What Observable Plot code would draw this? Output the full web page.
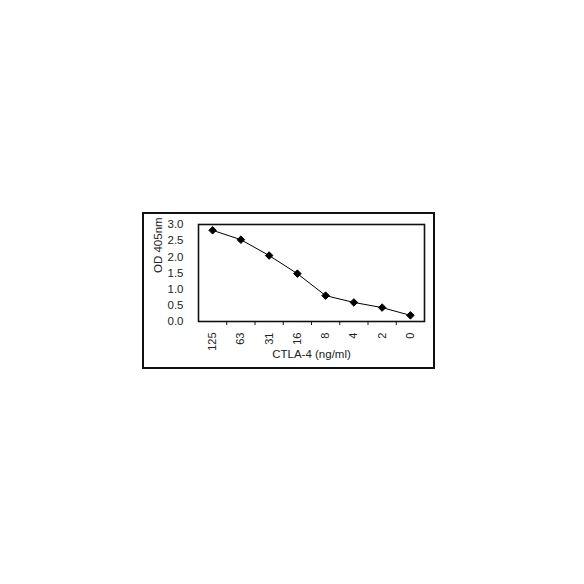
<!DOCTYPE html>
<html>
<head>
<meta charset="utf-8">
<script src="https://cdn.jsdelivr.net/npm/d3@7"></script>
<script src="https://cdn.jsdelivr.net/npm/@observablehq/plot@0.6"></script>
<style>
  html, body { margin: 0; padding: 0; background: #fff; }
  #wrap { position: relative; width: 584px; height: 584px; }
  #box { position: absolute; left: 142px; top: 212px; width: 289px; height: 153px; border: 2px solid #111; pointer-events: none; }
  svg { font-family: "Liberation Sans", Arial, sans-serif; }
</style>
</head>
<body>
<div id="wrap"><div id="box"></div></div>
<script>
const concentrations = ["125", "63", "31", "16", "8", "4", "2", "0"];
const od405 = [2.82, 2.53, 2.04, 1.48, 0.80, 0.59, 0.43, 0.19];
const yTicks = [0, 0.5, 1.0, 1.5, 2.0, 2.5, 3.0];

const data = concentrations.map((c, i) => ({i, c, od: od405[i]}));
const boundaries = d3.range(0.5, concentrations.length - 0.5, 1);

const chart = Plot.plot({
  width: 584,
  height: 584,
  marginLeft: 198,
  marginRight: 160,
  marginTop: 224,
  marginBottom: 263,
  style: {fontFamily: "Liberation Sans, Arial, sans-serif", fontSize: "11px", color: "#222", background: "#fff"},
  x: {type: "linear", domain: [-0.5, concentrations.length - 0.5]},
  y: {domain: [0, 3.0]},
  marks: [
    Plot.frame({stroke: "#111", strokeWidth: 1.6}),
    Plot.axisY({ticks: yTicks, tickFormat: d => d.toFixed(1), tickSize: 0, tickPadding: 15, label: null, fontSize: 11.5}),
    Plot.text(["OD 405nm"], {frameAnchor: "left", dx: -40, rotate: -90, fontSize: 11.5, fill: "#222"}),
    Plot.axisX({ticks: boundaries, tickFormat: () => "", tickSize: 4, label: null, stroke: "#111"}),
    Plot.axisX({ticks: d3.range(concentrations.length), tickFormat: i => concentrations[i], tickSize: 0, tickPadding: 11, tickRotate: -90, label: null, fontSize: 11}),
    Plot.text(["CTLA-4 (ng/ml)"], {frameAnchor: "bottom", dy: 36, fontSize: 11.5, fill: "#222"}),
    Plot.line(data, {x: "i", y: "od", stroke: "#000", strokeWidth: 1}),
    Plot.dot(data, {x: "i", y: "od", symbol: "diamond2", r: 3.4, fill: "#000", stroke: "#000", strokeWidth: 1})
  ]
});
document.getElementById("wrap").prepend(chart);
chart.style.position = "absolute";
chart.style.left = "0";
chart.style.top = "0";
</script>
</body>
</html>
